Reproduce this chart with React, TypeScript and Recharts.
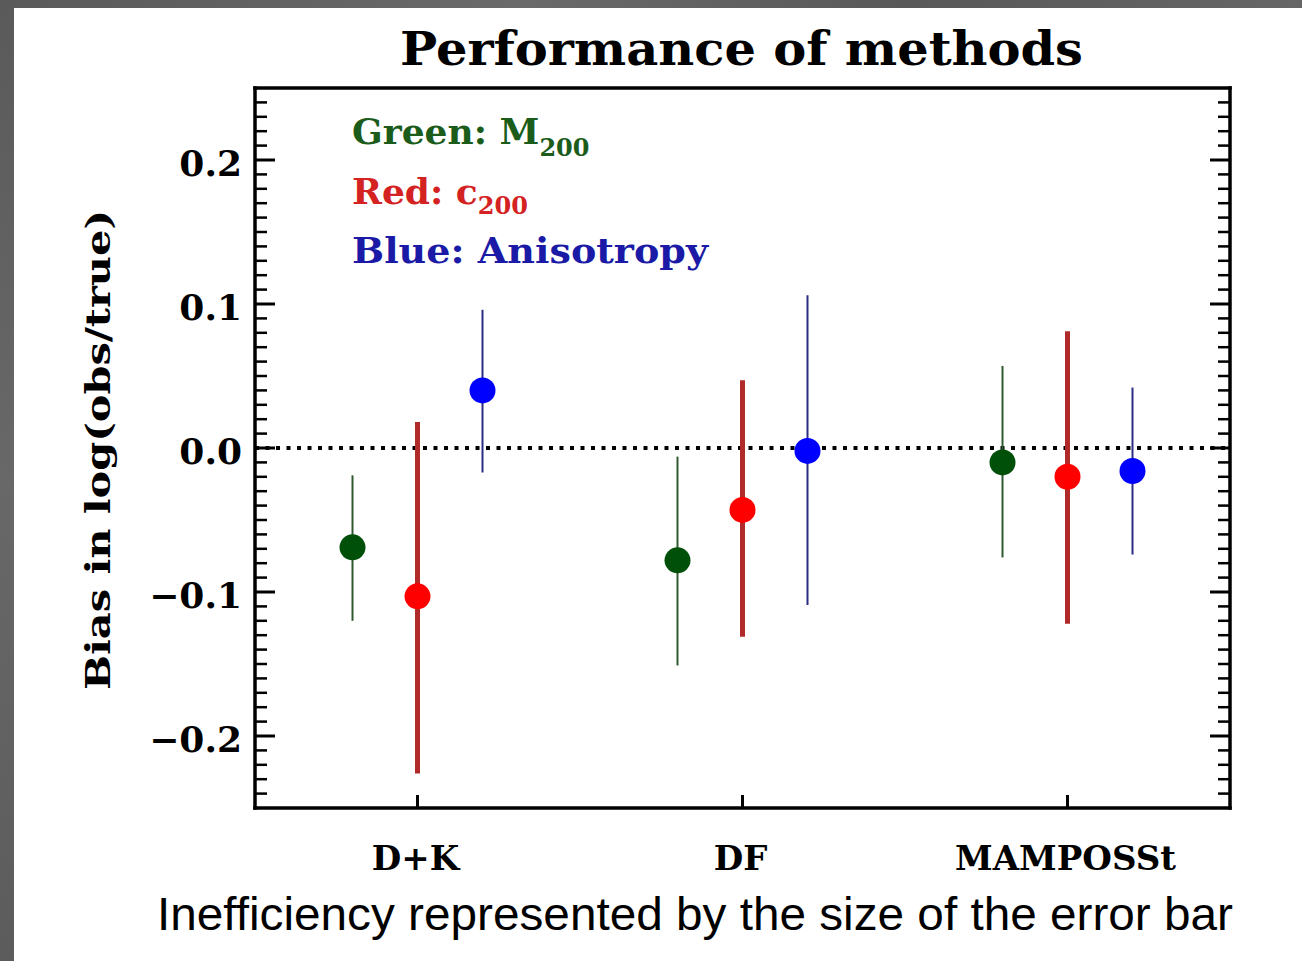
import React from "react";
import { ScatterChart, Scatter, XAxis, YAxis, ErrorBar, ReferenceLine } from "recharts";

const methods = ["D+K", "DF", "MAMPOSSt"];

// bias of each method, with the lower and upper end of its error bar
const massBias = [-0.069, -0.078, -0.01];
const massLow = [-0.12, -0.151, -0.076];
const massHigh = [-0.019, -0.006, 0.057];

const concBias = [-0.103, -0.043, -0.02];
const concLow = [-0.226, -0.131, -0.122];
const concHigh = [0.018, 0.047, 0.081];

const anisoBias = [0.04, -0.002, -0.016];
const anisoLow = [-0.017, -0.109, -0.074];
const anisoHigh = [0.096, 0.106, 0.042];

const yMajorTicks = [-0.2, -0.1, 0, 0.1, 0.2];
const yTickLabels = ["\u22120.2", "\u22120.1", "0.0", "0.1", "0.2"];
const xTicks = [1, 2, 3];

// minor ticks every 0.01 inside the frame
const yTicks: number[] = [];
for (let i = -24; i <= 24; i++) yTicks.push(i / 100);

const points = (bias: number[], low: number[], high: number[], shift: number) =>
  bias.map((b, i) => ({ x: i + 1 + shift, y: b, err: [b - low[i], high[i] - b] }));

const massData = points(massBias, massLow, massHigh, -0.2);
const concData = points(concBias, concLow, concHigh, 0);
const anisoData = points(anisoBias, anisoLow, anisoHigh, 0.2);

const serif = "DejaVu Serif";

const majorIndex = (v: number) => yMajorTicks.findIndex((m) => Math.abs(m - v) < 1e-6);

function LeftTick(props: any) {
  const { x, y, payload } = props;
  const idx = majorIndex(payload.value);
  const major = idx >= 0;
  return (
    <g>
      <line x1={x} x2={x + (major ? 20 : 12)} y1={y} y2={y} stroke="#000" strokeWidth={major ? 3 : 2.5} />
      {major && (
        <text x={x - 13} y={y + 16} textAnchor="end" fontFamily={serif} fontWeight="bold" fontSize={36} fill="#000">
          {yTickLabels[idx]}
        </text>
      )}
    </g>
  );
}

function RightTick(props: any) {
  const { x, y, payload } = props;
  const major = majorIndex(payload.value) >= 0;
  return <line x1={x} x2={x - (major ? 20 : 12)} y1={y} y2={y} stroke="#000" strokeWidth={major ? 3 : 2.5} />;
}

function BottomTick(props: any) {
  const { x, y, payload } = props;
  return (
    <g>
      <line x1={x} x2={x} y1={y} y2={y - 13} stroke="#000" strokeWidth={3} />
      <text x={x - 2} y={y + 62} textAnchor="middle" fontFamily={serif} fontWeight="bold" fontSize={34} fill="#000">
        {methods[payload.value - 1]}
      </text>
    </g>
  );
}

function TopTick(props: any) {
  const { x, y } = props;
  return <line x1={x} x2={x} y1={y} y2={y + 13} stroke="#000" strokeWidth={3} />;
}

const dot = (fill: string) => (p: any) => <circle cx={p.cx} cy={p.cy} r={13} fill={fill} />;

const frame = { stroke: "#000", strokeWidth: 3.5, strokeLinecap: "square" as const };

export default function App() {
  return (
    <div style={{ position: "absolute", left: 0, top: 0, width: 1302, height: 961, background: "#fff", overflow: "hidden" }}>
      <div style={{ position: "absolute", left: 0, top: 0, width: 1302, height: 8, background: "linear-gradient(90deg,#5a5a5a,#6a6a6a 40%,#595959 70%,#666)" }} />
      <div style={{ position: "absolute", left: 0, top: 0, width: 14, height: 961, background: "linear-gradient(180deg,#5a5a5a,#686868 50%,#5c5c5c)" }} />
      <div style={{ position: "absolute", left: 0, top: 0 }}>
        <ScatterChart width={1302} height={961} margin={{ top: 68, right: 52, bottom: 93, left: 175 }}>
          <XAxis
            xAxisId="b"
            type="number"
            dataKey="x"
            domain={[0.5, 3.5]}
            allowDataOverflow
            ticks={xTicks}
            interval={0}
            tickSize={0}
            tickMargin={0}
            height={60}
            axisLine={frame}
            tick={(p: any) => <BottomTick {...p} />}
          />
          <XAxis
            xAxisId="t"
            orientation="top"
            type="number"
            domain={[0.5, 3.5]}
            allowDataOverflow
            ticks={xTicks}
            interval={0}
            tickSize={0}
            tickMargin={0}
            height={20}
            axisLine={frame}
            tick={(p: any) => <TopTick {...p} />}
          />
          <YAxis
            yAxisId="l"
            type="number"
            dataKey="y"
            domain={[-0.25, 0.25]}
            allowDataOverflow
            ticks={yTicks}
            interval={0}
            tickSize={0}
            tickMargin={0}
            width={80}
            axisLine={frame}
            tick={(p: any) => <LeftTick {...p} />}
          />
          <YAxis
            yAxisId="r"
            orientation="right"
            type="number"
            domain={[-0.25, 0.25]}
            allowDataOverflow
            ticks={yTicks}
            interval={0}
            tickSize={0}
            tickMargin={0}
            width={20}
            axisLine={frame}
            tick={(p: any) => <RightTick {...p} />}
          />
          <ReferenceLine xAxisId="b" yAxisId="l" y={0} stroke="#000" strokeWidth={4} strokeDasharray="4 6.5" />
          <Scatter name="M200" data={massData} xAxisId="b" yAxisId="l" shape={dot("#00500a")} isAnimationActive={false}>
            <ErrorBar dataKey="err" direction="y" width={0} stroke="#2f5a2f" strokeWidth={2} isAnimationActive={false} />
          </Scatter>
          <Scatter name="c200" data={concData} xAxisId="b" yAxisId="l" shape={dot("#ff0000")} isAnimationActive={false}>
            <ErrorBar dataKey="err" direction="y" width={0} stroke="#b02a2a" strokeWidth={5} isAnimationActive={false} />
          </Scatter>
          <Scatter name="Anisotropy" data={anisoData} xAxisId="b" yAxisId="l" shape={dot("#0000ff")} isAnimationActive={false}>
            <ErrorBar dataKey="err" direction="y" width={0} stroke="#2c2c86" strokeWidth={2} isAnimationActive={false} />
          </Scatter>
        </ScatterChart>
      </div>
      <svg width={1302} height={961} style={{ position: "absolute", left: 0, top: 0, pointerEvents: "none" }}>
        <text x={400} y={65} fontFamily={serif} fontWeight="bold" fontSize={46} textLength={683} lengthAdjust="spacingAndGlyphs" fill="#000">
          Performance of methods
        </text>
        <text
          transform="translate(110,450) rotate(-90)"
          textAnchor="middle"
          fontFamily={serif}
          fontWeight="bold"
          fontSize={34}
          textLength={480}
          lengthAdjust="spacingAndGlyphs"
          fill="#000"
        >
          Bias in log(obs/true)
        </text>
        <g fontFamily={serif} fontWeight="bold" fontSize={36}>
          <text x={352} y={144} fill="#1b5c1b">
            Green: M<tspan dy={12} fontSize={24}>200</tspan>
          </text>
          <text x={352} y={204} fill="#d42222">
            Red: c<tspan dy={10} fontSize={24}>200</tspan>
          </text>
          <text x={352} y={263} fill="#1a1aa6" textLength={356} lengthAdjust="spacingAndGlyphs">
            Blue: Anisotropy
          </text>
        </g>
        <text x={157} y={930} fontFamily="Liberation Sans" fontSize={46} textLength={1076} lengthAdjust="spacingAndGlyphs" fill="#000">
          Inefficiency represented by the size of the error bar
        </text>
      </svg>
    </div>
  );
}
